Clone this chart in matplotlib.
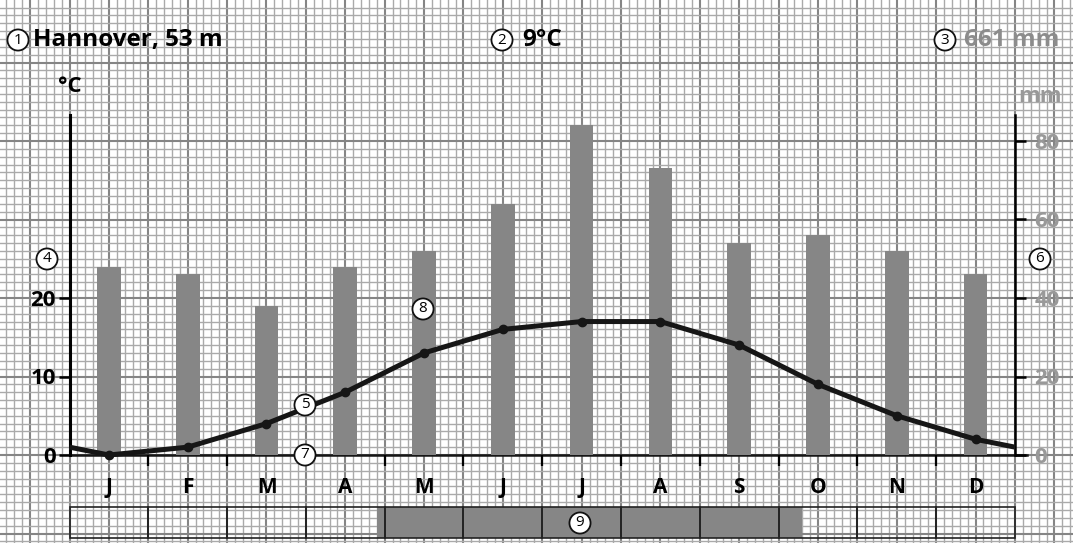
import numpy as np
import matplotlib.pyplot as plt
import matplotlib.transforms as mtrans
from matplotlib.patches import Rectangle

plt.rcParams['font.family'] = ['Open Sans', 'DejaVu Sans']

# climate data Hannover
months = ['J', 'F', 'M', 'A', 'M', 'J', 'J', 'A', 'S', 'O', 'N', 'D']
temp_c = [0, 1, 4, 8, 13, 16, 17, 17, 14, 9, 5, 2]
precip_mm = [48, 46, 38, 48, 52, 64, 84, 73, 54, 56, 52, 46]
station = 'Hannover, 53 m'
mean_temp = '9°C'
total_precip = '661 mm'
temp_ticks = [0, 10, 20]
precip_ticks = [0, 20, 40, 60, 80]

W, H = 1073, 543
fig = plt.figure(figsize=(W / 100, H / 100), dpi=100)

# background axes in pixel coords (graph paper + table)
bg = fig.add_axes([0, 0, 1, 1])
bg.set_xlim(0, W)
bg.set_ylim(H, 0)
bg.axis('off')

x0, y0, right, top = 69.5, 455, 1015, 115
xstep = (right - x0) / 120
ystep = 7.85
for k in range(-20, 140):
    x = x0 + k * xstep
    if 0 <= x <= W:
        major = k % 5 == 0
        bg.plot([x, x], [0, H], color='#858585' if major else '#aaaaaa',
                lw=1.5 if major else 1.0, zorder=0)
for k in range(-20, 80):
    y = y0 - k * ystep
    if 0 <= y <= H:
        major = k % 10 == 0
        bg.plot([0, W], [y, y], color='#858585' if major else '#aaaaaa',
                lw=1.5 if major else 1.0, zorder=0)

# main axes
ax = fig.add_axes([x0 / W, (H - y0) / H, (right - x0) / W, (y0 - top) / H])
ax2 = ax.twinx()
ax.set_zorder(ax2.get_zorder() + 1)
ax.patch.set_visible(False)
ax2.patch.set_visible(False)

ymax = (y0 - top) / ystep
ax.set_xlim(0, 12)
ax.set_ylim(0, ymax)
ax2.set_ylim(0, 2 * ymax)

xc = np.arange(12) + 0.5
ax2.bar(xc, precip_mm, width=0.3, color='#868686', zorder=1)

edge = (temp_c[0] + temp_c[-1]) / 2
ax.plot(np.r_[0, xc, 12], np.r_[edge, temp_c, edge], color='#161616', lw=3.6,
        solid_capstyle='butt', solid_joinstyle='round', zorder=3, clip_on=False)
ax.plot(xc, temp_c, 'o', color='#161616', ms=6, zorder=4, clip_on=False)

for a in (ax, ax2):
    for s in ('top', 'bottom'):
        a.spines[s].set_visible(False)
ax.spines['right'].set_visible(False)
ax2.spines['left'].set_visible(False)
ax.spines['left'].set_linewidth(2.2)
ax2.spines['right'].set_linewidth(1.8)

ax.set_yticks(temp_ticks)
ax.set_yticklabels([str(t) for t in temp_ticks], fontsize=16, fontweight='bold')
ax.tick_params(axis='y', direction='out', length=8, width=1.8, pad=2)
ax2.set_yticks(precip_ticks)
ax2.set_yticklabels([str(t) for t in precip_ticks], fontsize=16,
                    fontweight='bold', color='#999999')
ax2.tick_params(axis='y', direction='out', length=8, width=1.8, pad=6)

ax.set_xticks(range(1, 12))
ax.set_xticklabels([])
ax.set_xticks(xc, minor=True)
ax.set_xticklabels(months, minor=True, fontsize=15, fontweight='bold')
ax.tick_params(axis='x', which='major', direction='out', length=8, width=1.6)
ax.tick_params(axis='x', which='minor', length=0, pad=16)

# base line
bg.plot([x0, 1027], [y0, y0], color='#161616', lw=1.8, zorder=2)

# table of months with growing season (mean temp >= 10 °C)
tr = mtrans.blended_transform_factory(ax.transData, bg.transData)
t = np.array(temp_c, dtype=float)
up = np.where((t[:-1] < 10) & (t[1:] >= 10))[0][0]
dn = np.where((t[:-1] >= 10) & (t[1:] < 10))[0][0]
g0 = xc[up] + (10 - t[up]) / (t[up + 1] - t[up])
g1 = xc[dn] + (t[dn] - 10) / (t[dn] - t[dn + 1])
bg.add_patch(Rectangle((g0, 507), g1 - g0, 31, transform=tr,
                       facecolor='#868686', edgecolor='none', zorder=3))
for i in range(12):
    bg.add_patch(Rectangle((i, 507), 1, 31, transform=tr, facecolor='none',
                           edgecolor='#222222', lw=1.2, zorder=4))

# overlay axes for headers and numbered markers
fg = fig.add_axes([0, 0, 1, 1])
fg.set_zorder(ax.get_zorder() + 5)
fg.patch.set_visible(False)
fg.set_xlim(0, W)
fg.set_ylim(H, 0)
fg.axis('off')

fg.text(33, 40, station, fontsize=17.5, fontweight='bold', va='center', ha='left')
fg.text(522, 40, mean_temp, fontsize=17.5, fontweight='bold', va='center', ha='left')
fg.text(964, 40, total_precip, fontsize=17.5, fontweight='bold', va='center',
        ha='left', color='#8c8c8c')
fg.text(70, 87, '°C', fontsize=16, fontweight='bold', va='center', ha='center')
fg.text(1040, 97, 'mm', fontsize=16, fontweight='bold', va='center',
        ha='center', color='#999999')


def circ(x, y, s, size=11):
    fg.text(x, y, s, fontsize=size, ha='center', va='center', zorder=6,
            bbox=dict(boxstyle='circle,pad=0.2', fc='white', ec='#111111', lw=1.3))


for (cx, cy), s in zip([(18, 40), (502, 40), (945, 40)], '123'):
    circ(cx, cy, s, size=11)
for (cx, cy), s in zip([(47, 259), (305, 405), (1040, 259), (305, 455),
                        (423, 309), (580, 523)], '456789'):
    circ(cx, cy, s)

fig.savefig('out.png', dpi=100)
